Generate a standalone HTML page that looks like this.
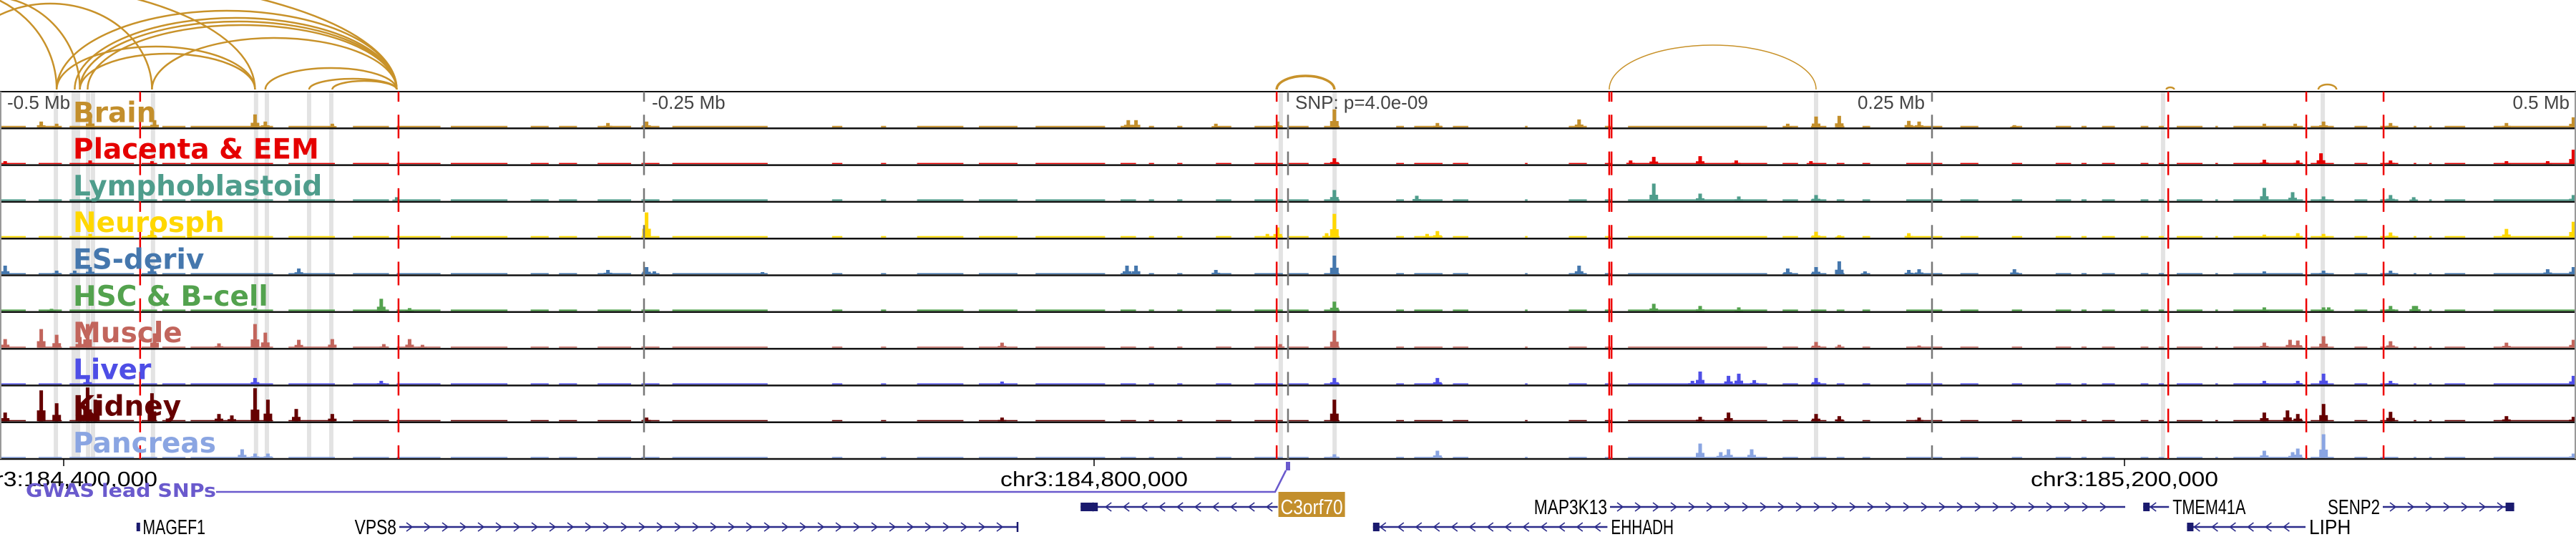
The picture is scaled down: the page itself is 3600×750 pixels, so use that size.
<!DOCTYPE html>
<html><head><meta charset="utf-8"><style>
html,body{margin:0;padding:0;background:#fff;}
svg{display:block;}
.lbl{font-family:"DejaVu Sans","Liberation Sans",sans-serif;font-weight:bold;font-size:39px;}
.ax{font-family:"Liberation Sans",sans-serif;fill:#444;font-size:26px;}
.gn{font-family:"Liberation Sans",sans-serif;fill:#000;font-size:29px;}
</style></head><body>
<svg id="chart" width="3600" height="750" viewBox="0 0 3600 750" xmlns="http://www.w3.org/2000/svg">
<g id="arcs"></g>
<g id="bands"></g>
<g id="tracks"></g>
<g id="vlines"></g>
<g id="labels"></g>
<g id="axis"></g>
<g id="genes"></g>
</svg>
<script>
// ---- data (kb offsets relative to lead SNP) ----
const trackNames = ["Brain","Placenta & EEM","Lymphoblastoid","Neurosph","ES-deriv","HSC & B-cell","Muscle","Liver","Kidney","Pancreas"];
const trackColors = ["#c38f2c","#e50000","#4f9d8c","#ffd700","#4577ad","#53a24e","#c2655c","#4e4ee6","#650000","#8aa5e2"];
const baseLevel = [2,1.5,2,2,1.5,2,1.5,1.5,1.5,1.5];
const baseSegs = [[-500,-490],[-485,-476],[-473,-448],[-445,-439],[-437,-428],[-426,-394],[-388,-370],[-363,-349],[-346,-329],[-325,-303],[-294,-287],[-283,-276],[-268,-255],[-251,-244],[-239,-202],[-177,-173],[-158,-156],[-144,-126],[-120,-105],[-98,-71],[-65,-59],[-54,-52],[-43,-41],[-28,-22],[-13,-2],[0,8],[14,20],[42,45],[49,60],[64,70],[92,93],[109,116],[123,126],[132,186],[192,198],[203,209],[213,216],[223,226],[240,254],[261,268],[281,285],[298,304],[308,310],[316,321],[331,334],[338,340],[345,355],[360,361],[367,394],[397,406],[414,419],[424,431],[437,438],[443,444],[449,457],[468,500]];
const peaksBrain = [[-484,8],[-478,5],[-465,15],[-440,10],[-401,18],[-397,8],[-371,5],[-264,6],[-249,8],[-62,10],[-59,10],[-28,5],[-4,8],[18,25],[58,6],[113,11],[194,5],[205,15],[214,16],[241,9],[245,8],[282,3],[379,5],[391,5],[402,8],[428,6],[473,6],[499,14]];
const peaksPlacenta = [[-498,4],[-465,5],[-441,4],[18,8],[133,5],[142,10],[160,11],[174,5],[203,4],[379,6],[392,5],[401,15],[428,5],[473,4],[489,4],[499,20]];
const peaksLympho = [[-466,5],[-401,3],[-346,5],[18,15],[50,7],[142,24],[160,10],[175,6],[205,8],[379,18],[390,12],[402,6],[428,8],[437,5],[499,8]];
const peaksNeuro = [[-465,5],[-441,10],[-249,35],[-8,5],[-4,14],[15,6],[18,33],[54,5],[58,9],[205,8],[214,3],[241,6],[379,4],[392,6],[402,5],[428,7],[473,12],[499,22]];
const peaksES = [[-498,12],[-478,5],[-471,5],[-465,10],[-441,12],[-384,8],[-264,6],[-249,10],[-246,4],[-204,3],[-62.5,12],[-59,12],[-28,6],[18,26],[113,12],[194,8],[205,10],[214,18],[224,4],[241,6],[245,7],[282,7],[379,4],[402,5],[428,5],[489,7],[499,10]];
const peaksHSC = [[-480,3],[-401,4],[-352,17],[-341,4],[18,13],[142,10],[160,7],[175,5],[379,5],[402,5],[404,5],[428,7],[437,7],[438,7]];
const peaksMuscle = [[-498,12],[-484,26],[-478,18],[-469,15],[-466,33],[-440,20],[-415,6],[-401,33],[-397,21],[-384,11],[-371,12],[-351,5],[-341,12],[-336,4],[-111,7],[-3,5],[18,24],[205,8],[214,4],[245,3],[379,7],[389,11],[392,10],[402,16],[428,9],[473,7],[499,11]];
const peaksLiver = [[-466,9],[-401,9],[-352,5],[-111,4],[18,9],[58,9],[157,5],[160,18],[171,12],[175,15],[181,6],[205,9],[379,5],[392,5],[402,15],[428,5],[499,12]];
const peaksKidney = [[-498,12],[-484,43],[-478,25],[-469,25],[-466,47],[-463,30],[-441,39],[-415,10],[-410,8],[-401,46],[-396,30],[-385,17],[-371,10],[-249,5],[-111,5],[18,30],[160,6],[171,12],[205,10],[214,7],[245,5],[379,12],[388,15],[392,10],[402,24],[428,13],[473,7],[499,6]];
const peaksPancreas = [[-406,12],[-401,6],[-396,6],[18,5],[58,10],[160,20],[168,8],[171,12],[180,12],[379,10],[390,8],[392,13],[402,33],[499,6]];
const trackPeaks = [peaksBrain,peaksPlacenta,peaksLympho,peaksNeuro,peaksES,peaksHSC,peaksMuscle,peaksLiver,peaksKidney,peaksPancreas];
const redLines = [-445.6,-345.3,-4.4,124.7,125.6,341.7,395.3,425.3];
const grayLines = [-250,0,250];
const grayBands = [-478.3,-471.4,-469.7,-465.8,-463.9,-440.6,-400.6,-396.4,-380,-371.4,-2.8,18.1,205,339.7,401.7];
const arcStart = [-560,-540,-520,-478,-471,-469,-466,-441,-397,-380,-371,-478,-469,-600,-620,-4.4,124.7,341,400];
const arcEnd   = [-478,-469,-441,-346,-346,-346,-346,-346,-346,-346,-346,-401,-401,-401,-346,18,205,344,407];
const arcScore = [140,130,120,110,100,95,90,72,30,15,12,60,50,150,160,19,62,3,7];
const mbTicks = [-500,-250,250,500];
const mbLabels = ["-0.5 Mb","-0.25 Mb","0.25 Mb","0.5 Mb"];
const axisTicksKb = [-1400,-1000,-600];
const axisLabels = ["chr3:184,400,000","chr3:184,800,000","chr3:185,200,000"];
const geneNames = ["C3orf70","MAP3K13","TMEM41A","SENP2","MAGEF1","VPS8","EHHADH","LIPH"];
const geneStart = [-80.5,125,332,425,-447,-345,33,349];
const geneEnd   = [-4,325,342,476,-446,-105,124,395];
const geneStrand= [-1,1,-1,1,0,1,-1,-1];
const geneRow   = [0,0,0,0,1,1,1,1];

// ---- scales ----
const X0 = 1800, PXKB = 3.6;
const xs = kb => X0 + kb*PXKB;
const TOP = 128, TH = 51.3;
const ys = (i,v) => TOP + (i+1)*TH - 1.5 - v;
const NS = "http://www.w3.org/2000/svg";
function mk(tag, attrs, parent){const e=document.createElementNS(NS,tag);for(const k in attrs)e.setAttribute(k,attrs[k]);parent.appendChild(e);return e;}
const gA=document.getElementById('arcs'),gB=document.getElementById('bands'),gT=document.getElementById('tracks'),gV=document.getElementById('vlines'),gL=document.getElementById('labels'),gX=document.getElementById('axis'),gG=document.getElementById('genes');

// arcs
for(let i=0;i<arcStart.length;i++){
  const x1=xs(arcStart[i]),x2=xs(arcEnd[i]),rx=(x2-x1)/2,ry=arcScore[i];
  const p=mk('path',{d:`M${x1},125 A${rx},${ry} 0 0 1 ${x2},125`,fill:'none',stroke:'#c8922a','stroke-width':(i===15?3.5:(i===16?1.5:2.5))},gA);
  
  
}
// bands
grayBands.forEach(kb=>{
  const r=mk('rect',{x:xs(kb)-3,y:TOP,width:6,height:TH*10,fill:'#e3e3e3'},gB);
  
  
});
// tracks
for(let i=0;i<10;i++){
  const g=mk('g',{},gT);
  
  
  const c=trackColors[i];
  baseSegs.forEach(s=>{
    const b=mk('rect',{x:xs(s[0]),y:ys(i,baseLevel[i]),width:Math.max(2,xs(s[1])-xs(s[0])),height:baseLevel[i],fill:c},g);
    
    
  });
  trackPeaks[i].forEach(p=>{
    const x=xs(p[0]),h=p[1];
    const a=mk('rect',{x:x-6,y:ys(i,h*0.35),width:12,height:h*0.35,fill:c},g);
    
    
    const b=mk('rect',{x:x-2.5,y:ys(i,h),width:5,height:h,fill:c},g);
    
    
  });
  const ln=mk('line',{x1:0,x2:3600,y1:TOP+(i+1)*TH,y2:TOP+(i+1)*TH,stroke:'#111','stroke-width':2.5},g);
  
  
}
mk('line',{x1:0,x2:3600,y1:TOP,y2:TOP,stroke:'#111','stroke-width':2},gT);
mk('line',{x1:1,x2:1,y1:TOP,y2:TOP+10*TH,stroke:'#999','stroke-width':2},gT);
mk('line',{x1:3599,x2:3599,y1:TOP,y2:TOP+10*TH,stroke:'#999','stroke-width':2},gT);
// vertical marker lines
const dash={'stroke-dasharray':'33 18.3','stroke-dashoffset':19};
grayLines.forEach(kb=>{
  const l=mk('line',Object.assign({x1:xs(kb),x2:xs(kb),y1:TOP,y2:TOP+10*TH,stroke:'#777','stroke-width':2.5},dash),gV);
  
  
});
redLines.forEach(kb=>{
  const l=mk('line',Object.assign({x1:xs(kb),x2:xs(kb),y1:TOP,y2:TOP+10*TH,stroke:'#ee0000','stroke-width':2.5},dash),gV);
  
  
});
// Mb labels
mbTicks.forEach((kb,i)=>{
  let x=xs(kb), anchor='start';
  if(kb===-500) x=10; else if(kb===-250) x+=11; else if(kb===250){x-=10;anchor='end';} else {x=3591;anchor='end';}
  const t=mk('text',{x:x,y:152,'text-anchor':anchor,class:'ax'},gL);
  t.textContent=mbLabels[i];
  
  
});
const snpT=mk('text',{x:1810,y:152,class:'ax'},gL);
snpT.textContent='SNP: p=4.0e-09';


// track labels
for(let i=0;i<10;i++){
  const t=mk('text',{x:102,y:TOP+(i+1)*TH-9,class:'lbl',fill:trackColors[i]},gL);
  t.textContent=trackNames[i];
  
  
}
// genomic axis
const axY=TOP+10*TH;
axisTicksKb.forEach((kb,i)=>{
  const xx=89+(i*1440);
  mk('line',{x1:xx,x2:xx,y1:axY,y2:axY+10,stroke:'#000','stroke-width':1.5},gX);
  const t=mk('text',{x:xx,y:679,'text-anchor':'middle',class:'gn','font-size':'31',textLength:262,lengthAdjust:'spacingAndGlyphs'},gX);
  t.textContent=axisLabels[i];
  
  
});
// GWAS SNP track
mk('polyline',{points:`302,687 ${xs(-5)},687 ${xs(-0.8)},657`,fill:'none',stroke:'#6a5acd','stroke-width':2.5},gX);
const snpBox=mk('rect',{x:xs(0)-3,y:645,width:6,height:12,fill:'#6a5acd'},gX);


const gw=mk('text',{x:36,y:694,fill:'#6a5acd','font-family':'DejaVu Sans, sans-serif','font-weight':'bold','font-size':'26',textLength:266,lengthAdjust:'spacingAndGlyphs'},gX);
gw.textContent='GWAS lead SNPs';


// genes
const labelLeft=[false,true,false,true,false,true,false,false];
for(let i=0;i<geneNames.length;i++){
  const g=mk('g',{},gG);
  
  
  const y=geneRow[i]===0?708:736;
  const x1=xs(geneStart[i]),x2=xs(geneEnd[i]);
  mk('line',{x1:x1,x2:x2,y1:y,y2:y,stroke:'#2b2b8a','stroke-width':2.5},g);
  if(geneStrand[i]!==0){
    for(let x=x1+14;x<x2-8;x+=25){
      const d=geneStrand[i]>0?`M${x-4},${y-6} L${x+4},${y} L${x-4},${y+6}`:`M${x+4},${y-6} L${x-4},${y} L${x+4},${y+6}`;
      mk('path',{d:d,fill:'none',stroke:'#2b2b8a','stroke-width':1.6},g);
    }
  }
  let bx=null,bw=0,bh=12;
  if(i===0){bx=x1;bw=24;}
  if(i===2||i===4||i===6||i===7){bx=x1;bw=i===4?5:9;}
  if(i===3){bx=x2-12;bw=12;}
  if(i===5){mk('line',{x1:x2,x2:x2,y1:y-7,y2:y+7,stroke:'#1a1a6e','stroke-width':2.5},g);}
  if(bx!==null) mk('rect',{x:bx,y:y-bh/2,width:bw,height:bh,fill:'#1a1a6e'},g);
  const w=geneNames[i].length*14.6;
  if(i===0){
    mk('rect',{x:x2+1,y:y-21,width:93,height:35,fill:'#c38f2c'},g);
    const t=mk('text',{x:x2+4,y:y+10,class:'gn',style:'fill:#fff',textLength:87,lengthAdjust:'spacingAndGlyphs'},g);
    t.textContent=geneNames[i];
  } else {
    const t=mk('text',{x:labelLeft[i]?x1-4:x2+5,y:y+10,'text-anchor':labelLeft[i]?'end':'start',class:'gn',textLength:w,lengthAdjust:'spacingAndGlyphs'},g);
    t.textContent=geneNames[i];
  }
}
</script>
</body></html>
